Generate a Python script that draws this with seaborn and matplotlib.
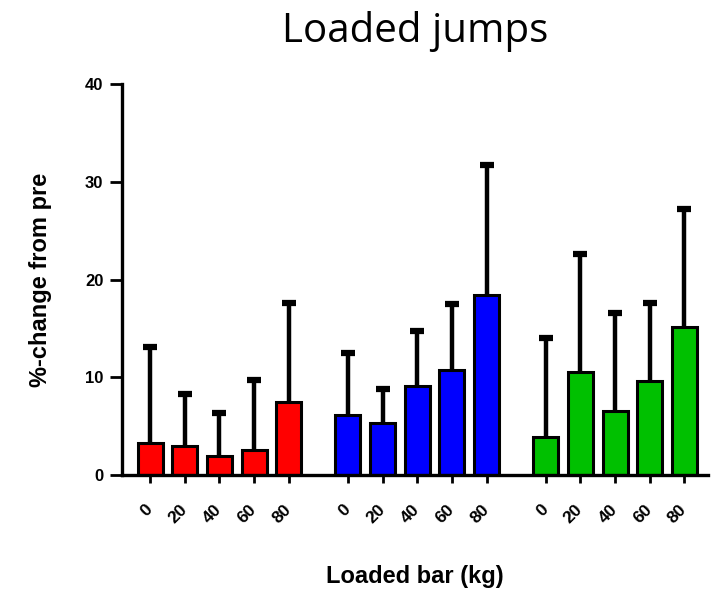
import numpy as np
import pandas as pd
import matplotlib
matplotlib.use("Agg")
import matplotlib.pyplot as plt
import seaborn as sns

# ---- data ----
loads = ["0", "20", "40", "60", "80"]
groups = ["A", "B", "C"]
red_means = [3.3, 3.0, 1.9, 2.55, 7.45]
red_upper = [13.1, 8.3, 6.3, 9.75, 17.6]
blue_means = [6.1, 5.3, 9.1, 10.75, 18.4]
blue_upper = [12.5, 8.8, 14.7, 17.5, 31.75]
green_means = [3.9, 10.5, 6.5, 9.65, 15.1]
green_upper = [14.05, 22.65, 16.6, 17.6, 27.25]
colors = ["#FF0000", "#0000FF", "#00C000"]

means = [red_means, blue_means, green_means]
uppers = [red_upper, blue_upper, green_upper]

group_gap = 5.7  # distance between group starts (in bar units)
rows = []
for gi, g in enumerate(groups):
    for li, lab in enumerate(loads):
        rows.append(dict(pos=gi * group_gap + li, value=means[gi][li],
                         upper=uppers[gi][li], group=g, load=lab))
df = pd.DataFrame(rows)

sns.set_style("ticks")
plt.rcParams["font.family"] = ["Liberation Sans", "DejaVu Sans"]
plt.rcParams["text.color"] = "black"
plt.rcParams["axes.labelcolor"] = "black"
plt.rcParams["xtick.color"] = "black"
plt.rcParams["ytick.color"] = "black"
plt.rcParams["axes.edgecolor"] = "black"

fig = plt.figure(figsize=(7.21, 5.91), dpi=100)
ax = fig.add_axes([122 / 721, 1 - 475 / 591, (708 - 122) / 721, (475 - 84) / 591])

# error bars (upper only), drawn under bars
ax.vlines(df["pos"], df["value"], df["upper"], color="black", lw=3.2, zorder=1)
ax.plot(df["pos"], df["upper"], ls="none", marker="_", ms=10, mew=4.5,
        color="black", zorder=1)

sns.barplot(data=df, x="pos", y="value", hue="group", palette=colors,
            native_scale=True, dodge=False, width=0.72, errorbar=None,
            saturation=1, edgecolor="black", linewidth=2.2, legend=False,
            ax=ax, zorder=2)

ax.set_xlim(-0.81, 16.08)
ax.set_ylim(0, 40)
ax.set_yticks([0, 10, 20, 30, 40])
ax.set_xticks(df["pos"])
ax.set_xticklabels(df["load"], rotation=45, ha="right", va="center",
                   rotation_mode="anchor", fontsize=12.5, fontweight="bold")
ax.tick_params(axis="x", length=6, width=2, pad=17)
ax.tick_params(axis="y", length=8.5, width=2, pad=5, labelsize=12)
for t in ax.get_yticklabels():
    t.set_fontweight("bold")

sns.despine(ax=ax)
for s in ["left", "bottom"]:
    ax.spines[s].set_linewidth(2.4)

ax.set_xlabel("Loaded bar (kg)", fontsize=17, fontweight="bold", labelpad=28)
ax.set_ylabel("%-change from pre", fontsize=17, fontweight="bold", labelpad=24)
ax.set_title("Loaded jumps", fontsize=29, pad=30, family=["Open Sans", "DejaVu Sans"])

fig.savefig("out.png", dpi=100)
